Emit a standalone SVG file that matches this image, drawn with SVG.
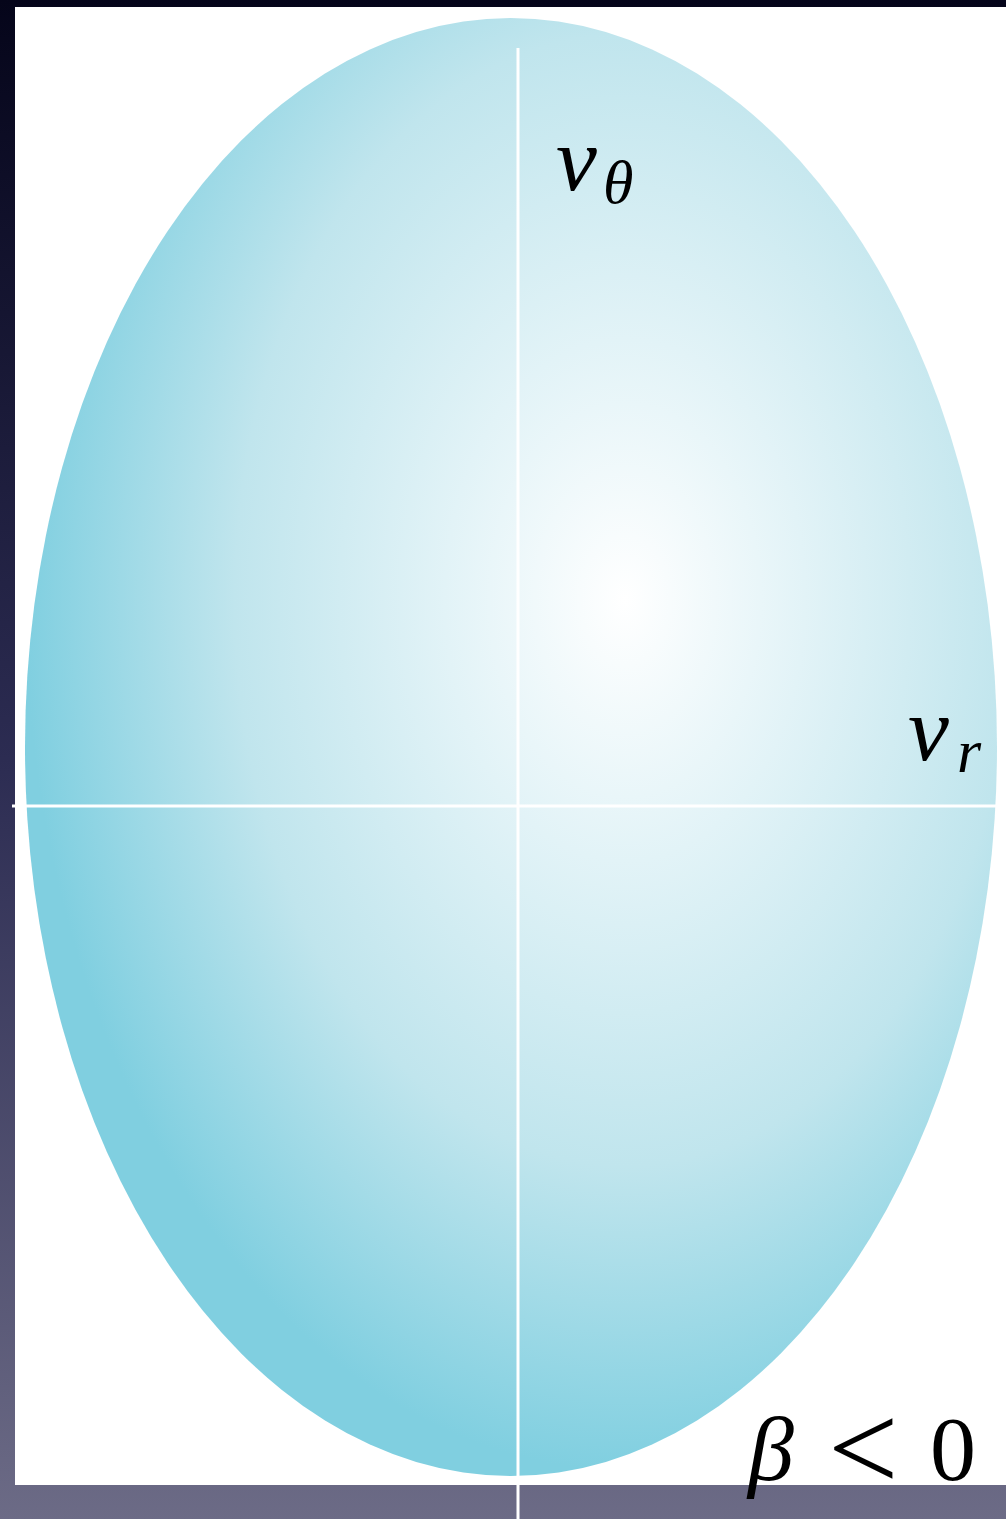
<svg xmlns="http://www.w3.org/2000/svg" width="1006" height="1519" viewBox="0 0 1006 1519">
<defs>
<linearGradient id="bg" x1="0" y1="0" x2="0" y2="1">
<stop offset="0" stop-color="#05051a"/>
<stop offset="0.5" stop-color="#2c2c52"/>
<stop offset="1" stop-color="#6c6b86"/>
</linearGradient>
<radialGradient id="egg" cx="625" cy="600" r="600" gradientUnits="userSpaceOnUse" gradientTransform="translate(625 600) scale(1 1.45) translate(-625 -600)">
<stop offset="0" stop-color="#ffffff"/>
<stop offset="0.3" stop-color="#e2f3f7"/>
<stop offset="0.65" stop-color="#c0e5ed"/>
<stop offset="1" stop-color="#80cfe0"/>
</radialGradient>
<style>
.ax{stroke:#ffffff;stroke-width:3;fill:none}
.m{font-family:"Liberation Serif","DejaVu Serif",serif;fill:#000}
</style>
</defs>
<rect x="0" y="0" width="1006" height="1519" fill="url(#bg)"/>
<rect x="15" y="7" width="991" height="1478" fill="#ffffff"/>
<g id="ellipse">
<ellipse cx="511" cy="747" rx="486" ry="729" fill="url(#egg)"/>
</g>
<g id="axes">
<line class="ax" x1="518" y1="48" x2="518" y2="1519"/>
<line class="ax" x1="12" y1="806" x2="1006" y2="806"/>
</g>
<g id="labels">
<text class="m" x="556" y="190" font-size="92" font-style="italic">v</text>
<text class="m" x="603" y="203" font-size="62" font-style="italic">θ</text>
<text class="m" x="908" y="760" font-size="92" font-style="italic">v</text>
<text class="m" x="957" y="772" font-size="62" font-style="italic">r</text>
<text class="m" x="748" y="1480" font-size="92" font-style="italic">β</text>
<text class="m" x="828" y="1490" font-size="125">&lt;</text>
<text class="m" x="930" y="1480" font-size="92">0</text>
</g>
</svg>
